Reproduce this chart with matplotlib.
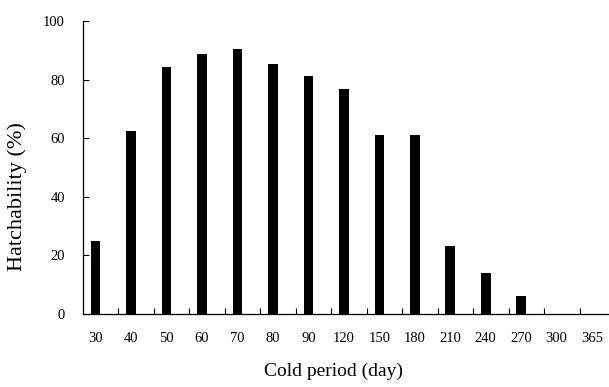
import numpy as np
import matplotlib.pyplot as plt

plt.rcParams['font.family'] = ['Liberation Serif', 'DejaVu Serif']

# cold period (days) and hatchability (%)
periods = ['30', '40', '50', '60', '70', '80', '90', '120', '150', '180',
           '210', '240', '270', '300', '365']
hatch = [25, 62.5, 84.4, 88.8, 90.3, 85.2, 81.3, 76.8, 61.1, 61.1,
         23.1, 14.1, 6.0, 0, 0]

fig = plt.figure(figsize=(6.09, 3.87), dpi=100)
# axis runs past the right edge like in the original figure
ax = fig.add_axes([83 / 609, 73 / 387, 532 / 609, 293 / 387])

x = np.arange(len(periods))
shift = -0.145
ax.bar(x + shift, hatch, width=0.27, color='black')

ax.set_xlim(-0.5, len(periods) - 0.5)
ax.set_ylim(0, 100)
ax.set_yticks(range(0, 101, 20))

# tick marks between categories, labels under the bars
ax.set_xticks(x[:-1] + 0.5)
ax.set_xticklabels([])
ax.set_xticks(x + shift, minor=True)
ax.set_xticklabels(periods, minor=True)
ax.tick_params(axis='x', which='major', direction='in', length=4, width=0.8)
ax.tick_params(axis='x', which='minor', length=0, pad=13, labelsize=10.5)
ax.tick_params(axis='y', direction='in', length=4, width=0.8, pad=13, labelsize=10.5)

for s in ['top', 'right']:
    ax.spines[s].set_visible(False)
for s in ['left', 'bottom']:
    ax.spines[s].set_linewidth(0.9)

ax.set_xlabel('Cold period (day)', fontsize=14)
ax.xaxis.set_label_coords(0.47, -0.165)
ax.set_ylabel('Hatchability (%)', fontsize=16)
ax.yaxis.set_label_coords(-0.105, 0.40)

fig.savefig('out.png', dpi=100)
